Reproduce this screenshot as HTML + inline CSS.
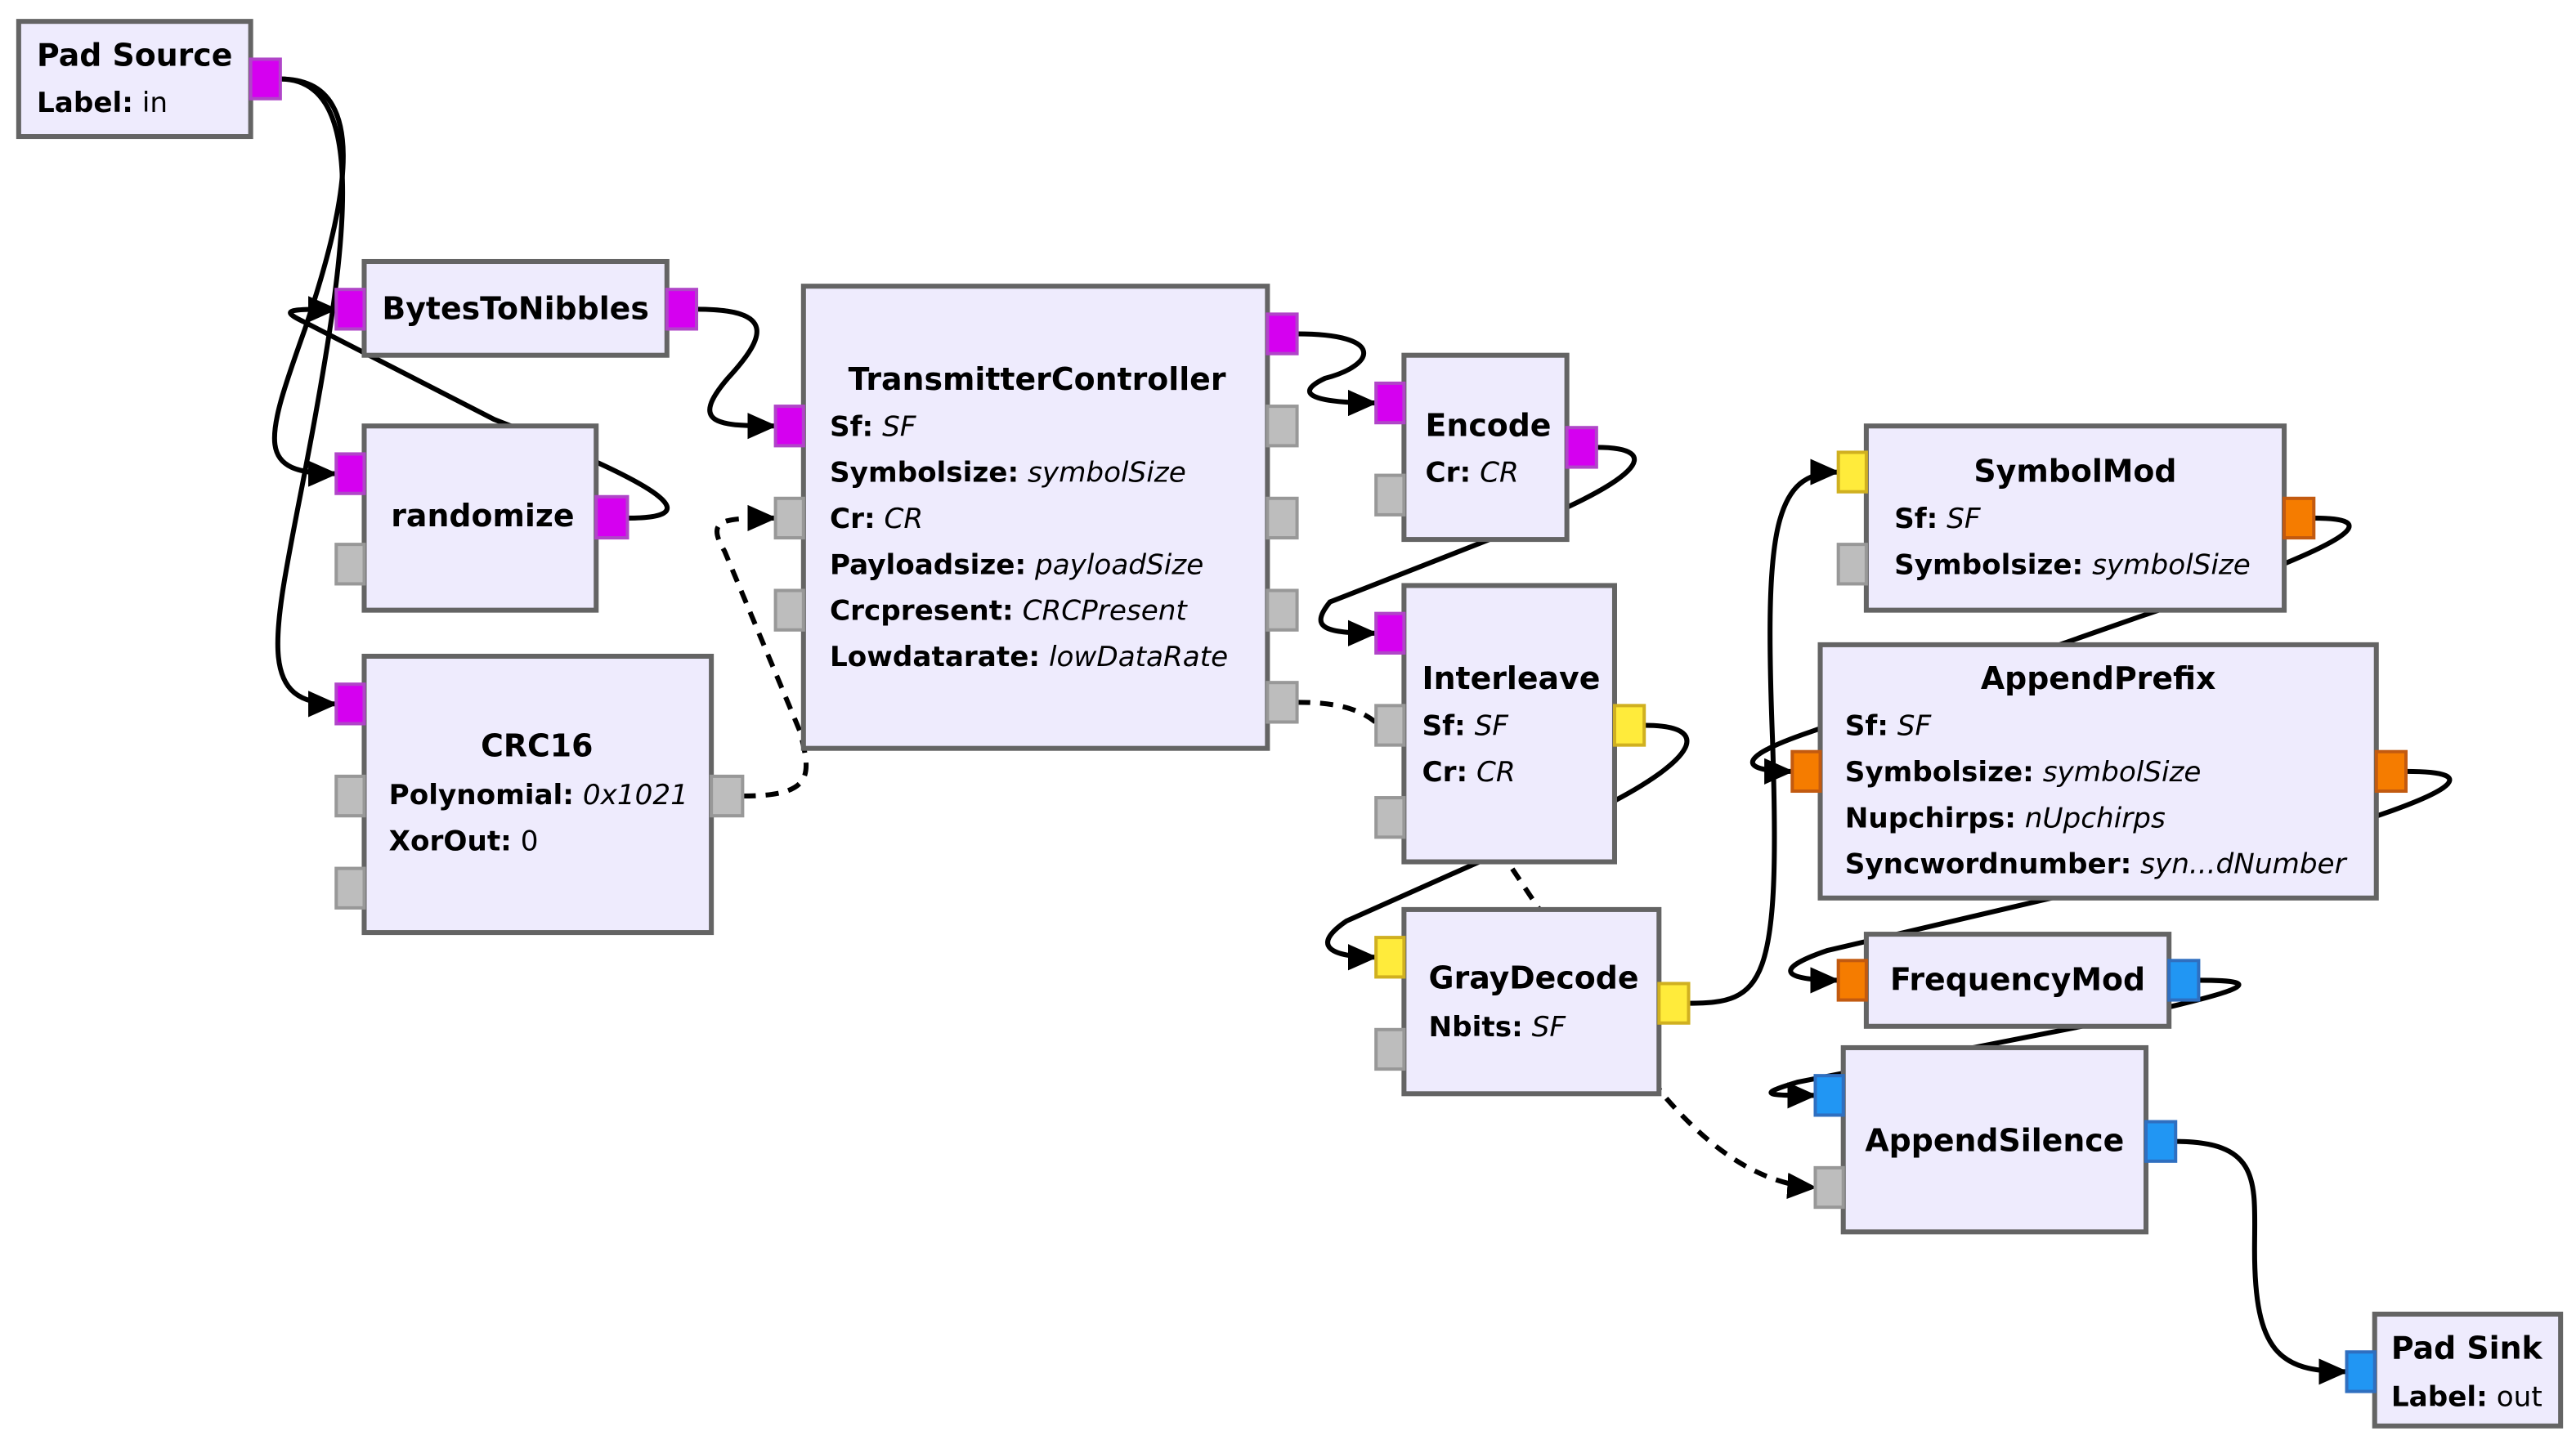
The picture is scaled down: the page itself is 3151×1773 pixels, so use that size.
<!DOCTYPE html>
<html><head><meta charset="utf-8">
<style>
html,body{margin:0;padding:0;background:#fff;}
svg{display:block;}
text{font-family:"DejaVu Sans","Liberation Sans",sans-serif;fill:#000;}
.t{font-weight:bold;font-size:18.8px;}
.p{font-size:17px;}
.b{font-weight:bold;}
.i{font-style:italic;}
.blk{fill:#EEEBFD;stroke:#646464;stroke-width:3;}
.c{fill:none;stroke:#000;stroke-width:3;}
.d{fill:none;stroke:#000;stroke-width:3;stroke-dasharray:8,6;}
.mg{fill:#D500F0;stroke:#B045C8;stroke-width:2;}
.gr{fill:#BDBDBD;stroke:#989898;stroke-width:2;}
.ye{fill:#FFEB3B;stroke:#D0B020;stroke-width:2;}
.or{fill:#F57C00;stroke:#C25A10;stroke-width:2;}
.bl{fill:#2196F3;stroke:#2F6FC0;stroke-width:2;}
</style></head>
<body>
<svg width="3151" height="1773" viewBox="0 0 1565 881" xmlns="http://www.w3.org/2000/svg">
<defs>
<marker id="a" markerUnits="userSpaceOnUse" markerWidth="18" markerHeight="16" refX="17" refY="8" orient="auto">
<path d="M0,0 L18,8 L0,16 z" fill="#000"/>
</marker>
</defs>
<path class="c" marker-end="url(#a)" d="M170,48 C225,48 212,120 185,200 C160,270 155,288 204,288"/>
<path class="c" marker-end="url(#a)" d="M170,48 C222,48 212,140 190,260 C168,380 150,428 204,428"/>
<path class="c" marker-end="url(#a)" d="M381,315 C425,315 415,300 300,255 L185,196 C168,188 176,188 204,188"/>
<path class="c" marker-end="url(#a)" d="M423,188 C472,188 465,205 442,230 C418,258 436,259 471,259"/>
<path class="d" marker-end="url(#a)" d="M451,484 C496,484 492,470 486,445 L440,335 C428,315 440,315 471,315"/>
<path class="c" marker-end="url(#a)" d="M788,203 C842,203 836,222 805,230 C784,240 800,245 836,245"/>
<path class="c" marker-end="url(#a)" d="M970,272 C1012,272 1000,292 905,328 L808,366 C795,382 805,385 836,385"/>
<path class="d" d="M788,427 C815,427 828,432 838,441"/>
<path class="d" marker-end="url(#a)" d="M880,470 L1010,665 C1040,700 1070,720 1103,722"/>
<path class="c" marker-end="url(#a)" d="M999,441 C1042,441 1030,462 975,490 L818,560 C796,575 808,582 836,582"/>
<path class="c" marker-end="url(#a)" d="M1026,610 C1072,610 1082,600 1077,450 C1072,320 1078,287 1117,287"/>
<path class="c" marker-end="url(#a)" d="M1406,315 C1450,315 1432,330 1300,375 L1100,445 C1050,462 1060,469 1089,469"/>
<path class="c" marker-end="url(#a)" d="M1462,469 C1510,469 1495,482 1400,510 L1110,578 C1075,590 1085,596 1117,596"/>
<path class="c" marker-end="url(#a)" d="M1336,596 C1380,596 1370,602 1260,625 L1092,658 C1065,666 1075,666 1103,666"/>
<path class="c" marker-end="url(#a)" d="M1322,694 C1375,694 1370,720 1370,760 C1370,822 1385,834 1426,834"/>

<rect class="blk" x="11" y="13" width="141" height="70"/>
<rect class="mg" x="152" y="36" width="18" height="24"/>
<text class="t" x="22" y="40">Pad Source</text>
<text class="p" x="22" y="68"><tspan class="b">Label:</tspan> in</text>

<rect class="blk" x="221" y="159" width="184" height="57"/>
<rect class="mg" x="204" y="176" width="17" height="24"/>
<rect class="mg" x="405" y="176" width="18" height="24"/>
<text class="t" x="313" y="194" text-anchor="middle">BytesToNibbles</text>

<rect class="blk" x="221" y="259" width="141" height="112"/>
<rect class="mg" x="204" y="276" width="17" height="24"/>
<rect class="gr" x="204" y="331" width="17" height="24"/>
<rect class="mg" x="362" y="302" width="19" height="25"/>
<text class="t" x="293" y="320" text-anchor="middle">randomize</text>

<rect class="blk" x="221" y="399" width="211" height="168"/>
<rect class="mg" x="204" y="416" width="17" height="24"/>
<rect class="gr" x="204" y="472" width="17" height="24"/>
<rect class="gr" x="204" y="528" width="17" height="24"/>
<rect class="gr" x="432" y="472" width="19" height="24"/>
<text class="t" x="326" y="460" text-anchor="middle">CRC16</text>
<text class="p" x="236" y="489"><tspan class="b">Polynomial:</tspan> <tspan class="i">0x1021</tspan></text>
<text class="p" x="236" y="517"><tspan class="b">XorOut:</tspan> 0</text>

<rect class="blk" x="488" y="174" width="282" height="281"/>
<rect class="mg" x="471" y="247" width="17" height="24"/>
<rect class="gr" x="471" y="303" width="17" height="24"/>
<rect class="gr" x="471" y="359" width="17" height="24"/>
<rect class="mg" x="770" y="191" width="18" height="24"/>
<rect class="gr" x="770" y="247" width="18" height="24"/>
<rect class="gr" x="770" y="303" width="18" height="24"/>
<rect class="gr" x="770" y="359" width="18" height="24"/>
<rect class="gr" x="770" y="415" width="18" height="24"/>
<text class="t" x="630" y="237" text-anchor="middle">TransmitterController</text>
<text class="p" x="504" y="265"><tspan class="b">Sf:</tspan> <tspan class="i">SF</tspan></text>
<text class="p" x="504" y="293"><tspan class="b">Symbolsize:</tspan> <tspan class="i">symbolSize</tspan></text>
<text class="p" x="504" y="321"><tspan class="b">Cr:</tspan> <tspan class="i">CR</tspan></text>
<text class="p" x="504" y="349"><tspan class="b">Payloadsize:</tspan> <tspan class="i">payloadSize</tspan></text>
<text class="p" x="504" y="377"><tspan class="b">Crcpresent:</tspan> <tspan class="i">CRCPresent</tspan></text>
<text class="p" x="504" y="405"><tspan class="b">Lowdatarate:</tspan> <tspan class="i">lowDataRate</tspan></text>

<rect class="blk" x="853" y="216" width="99" height="112"/>
<rect class="mg" x="836" y="233" width="17" height="24"/>
<rect class="gr" x="836" y="289" width="17" height="24"/>
<rect class="mg" x="952" y="260" width="18" height="24"/>
<text class="t" x="866" y="265">Encode</text>
<text class="p" x="866" y="293"><tspan class="b">Cr:</tspan> <tspan class="i">CR</tspan></text>

<rect class="blk" x="853" y="356" width="128" height="168"/>
<rect class="mg" x="836" y="373" width="17" height="24"/>
<rect class="gr" x="836" y="429" width="17" height="24"/>
<rect class="gr" x="836" y="485" width="17" height="24"/>
<rect class="ye" x="981" y="429" width="18" height="24"/>
<text class="t" x="864" y="419">Interleave</text>
<text class="p" x="864" y="447"><tspan class="b">Sf:</tspan> <tspan class="i">SF</tspan></text>
<text class="p" x="864" y="475"><tspan class="b">Cr:</tspan> <tspan class="i">CR</tspan></text>

<rect class="blk" x="853" y="553" width="155" height="112"/>
<rect class="ye" x="836" y="570" width="17" height="24"/>
<rect class="gr" x="836" y="626" width="17" height="24"/>
<rect class="ye" x="1008" y="598" width="18" height="24"/>
<text class="t" x="868" y="601">GrayDecode</text>
<text class="p" x="868" y="630"><tspan class="b">Nbits:</tspan> <tspan class="i">SF</tspan></text>

<rect class="blk" x="1134" y="259" width="254" height="112"/>
<rect class="ye" x="1117" y="275" width="17" height="24"/>
<rect class="gr" x="1117" y="331" width="17" height="24"/>
<rect class="or" x="1388" y="303" width="18" height="24"/>
<text class="t" x="1261" y="293" text-anchor="middle">SymbolMod</text>
<text class="p" x="1151" y="321"><tspan class="b">Sf:</tspan> <tspan class="i">SF</tspan></text>
<text class="p" x="1151" y="349"><tspan class="b">Symbolsize:</tspan> <tspan class="i">symbolSize</tspan></text>

<rect class="blk" x="1106" y="392" width="338" height="154"/>
<rect class="or" x="1089" y="457" width="17" height="24"/>
<rect class="or" x="1444" y="457" width="18" height="24"/>
<text class="t" x="1275" y="419" text-anchor="middle">AppendPrefix</text>
<text class="p" x="1121" y="447"><tspan class="b">Sf:</tspan> <tspan class="i">SF</tspan></text>
<text class="p" x="1121" y="475"><tspan class="b">Symbolsize:</tspan> <tspan class="i">symbolSize</tspan></text>
<text class="p" x="1121" y="503"><tspan class="b">Nupchirps:</tspan> <tspan class="i">nUpchirps</tspan></text>
<text class="p" x="1121" y="531"><tspan class="b">Syncwordnumber:</tspan> <tspan class="i">syn...dNumber</tspan></text>

<rect class="blk" x="1134" y="568" width="184" height="56"/>
<rect class="or" x="1117" y="584" width="17" height="24"/>
<rect class="bl" x="1318" y="584" width="18" height="24"/>
<text class="t" x="1226" y="602" text-anchor="middle">FrequencyMod</text>

<rect class="blk" x="1120" y="637" width="184" height="112"/>
<rect class="bl" x="1103" y="654" width="17" height="24"/>
<rect class="gr" x="1103" y="710" width="17" height="24"/>
<rect class="bl" x="1304" y="682" width="18" height="24"/>
<text class="t" x="1212" y="700" text-anchor="middle">AppendSilence</text>

<rect class="blk" x="1443" y="799" width="113" height="68"/>
<rect class="bl" x="1426" y="822" width="17" height="24"/>
<text class="t" x="1453" y="826">Pad Sink</text>
<text class="p" x="1453" y="855"><tspan class="b">Label:</tspan> out</text>
</svg>
</body></html>
